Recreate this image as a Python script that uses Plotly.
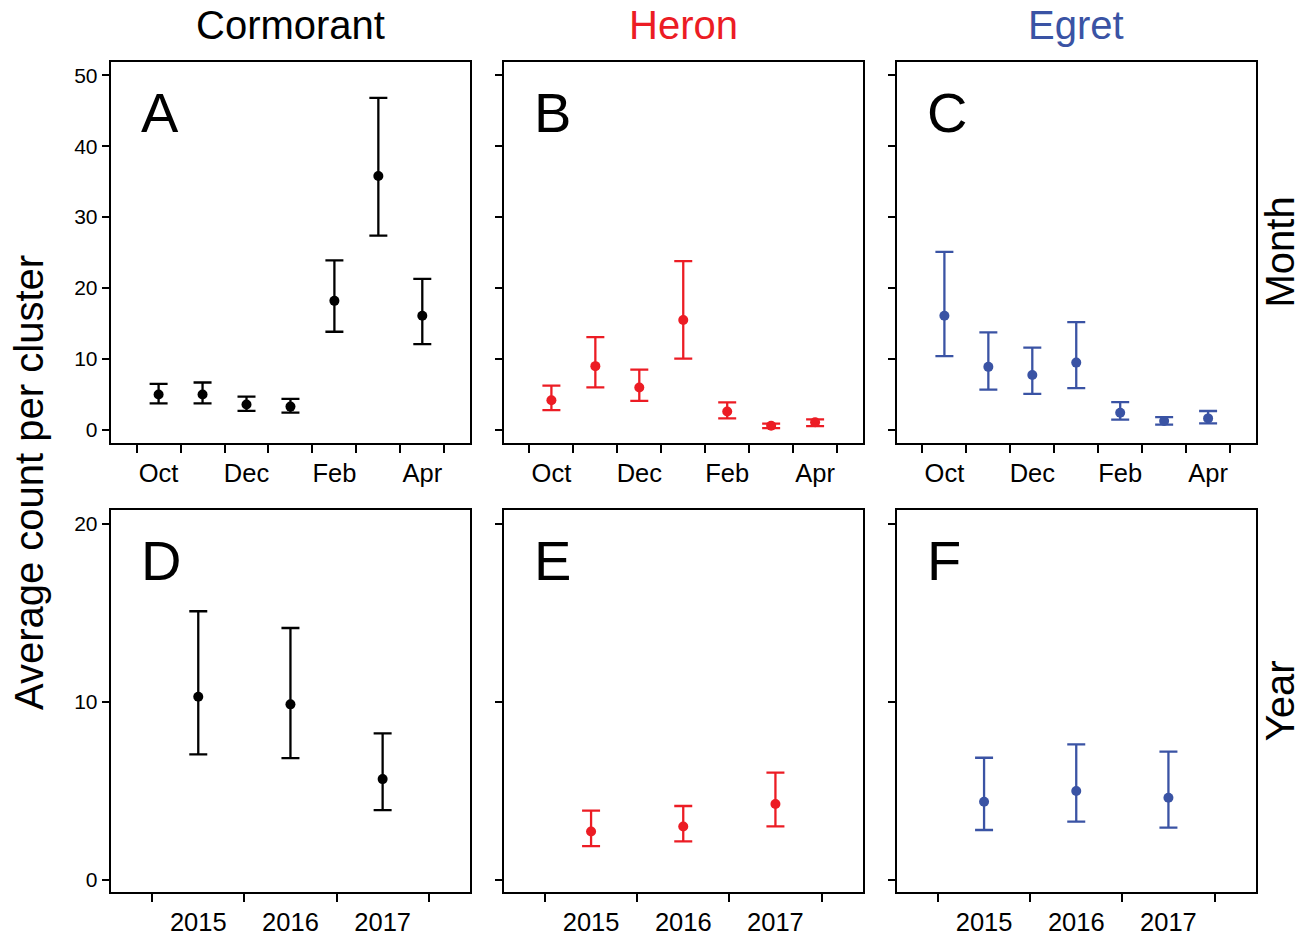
import plotly.graph_objects as go

# ---------------- data ----------------
months = ["Oct", "Nov", "Dec", "Jan", "Feb", "Mar", "Apr"]
years = ["2015", "2016", "2017"]
species = ["Cormorant", "Heron", "Egret"]
colors = ["#000000", "#EC1C24", "#3A53A4"]

# Month panels (A, B, C): mean, lower, upper
cormorant_month_mean = [5.0, 5.0, 3.6, 3.3, 18.2, 35.8, 16.1]
cormorant_month_low = [3.75, 3.75, 2.7, 2.45, 13.85, 27.4, 12.1]
cormorant_month_high = [6.5, 6.7, 4.7, 4.4, 23.9, 46.8, 21.3]

heron_month_mean = [4.2, 9.0, 6.0, 15.5, 2.6, 0.6, 1.1]
heron_month_low = [2.8, 6.0, 4.1, 10.05, 1.64, 0.28, 0.56]
heron_month_high = [6.25, 13.1, 8.5, 23.8, 3.9, 0.89, 1.5]

egret_month_mean = [16.1, 8.9, 7.75, 9.5, 2.44, 1.27, 1.64]
egret_month_low = [10.4, 5.7, 5.1, 5.9, 1.46, 0.75, 0.94]
egret_month_high = [25.1, 13.75, 11.6, 15.2, 3.94, 1.83, 2.68]

# Year panels (D, E, F)
cormorant_year_mean = [10.3, 9.87, 5.67]
cormorant_year_low = [7.06, 6.85, 3.93]
cormorant_year_high = [15.1, 14.16, 8.24]

heron_year_mean = [2.73, 3.01, 4.27]
heron_year_low = [1.91, 2.17, 3.01]
heron_year_high = [3.9, 4.16, 6.03]

egret_year_mean = [4.4, 5.0, 4.62]
egret_year_low = [2.81, 3.28, 2.94]
egret_year_high = [6.87, 7.62, 7.21]

month_sets = [
    (cormorant_month_mean, cormorant_month_low, cormorant_month_high),
    (heron_month_mean, heron_month_low, heron_month_high),
    (egret_month_mean, egret_month_low, egret_month_high),
]
year_sets = [
    (cormorant_year_mean, cormorant_year_low, cormorant_year_high),
    (heron_year_mean, heron_year_low, heron_year_high),
    (egret_year_mean, egret_year_low, egret_year_high),
]
panel_letters = ["A", "B", "C", "D", "E", "F"]

# ---------------- layout geometry ----------------
W, H = 1304, 936
FONT = "Liberation Sans, Arial, Helvetica, sans-serif"
col_left = [110.7, 503.5, 896.5]
col_w = 359.5
rows_px = [(61.7, 443.3), (510.0, 892.3)]

def xdom(c):
    return [col_left[c] / W, (col_left[c] + col_w) / W]

def ydom(r):
    top, bot = rows_px[r]
    return [1 - bot / H, 1 - top / H]

fig = go.Figure()
layout = dict(
    width=W, height=H,
    margin=dict(l=0, r=0, t=0, b=0),
    paper_bgcolor="white", plot_bgcolor="white",
    showlegend=False,
    font=dict(family=FONT, color="black"),
)

annotations = []

for r in range(2):
    for c in range(3):
        idx = r * 3 + c + 1
        xa = "x" if idx == 1 else f"x{idx}"
        ya = "y" if idx == 1 else f"y{idx}"
        xkey = "xaxis" if idx == 1 else f"xaxis{idx}"
        ykey = "yaxis" if idx == 1 else f"yaxis{idx}"

        if r == 0:
            cats = months
            mean, low, high = month_sets[c]
            xrange = [-1.09, len(cats) - 1 + 1.09]
            label_idx = [0, 2, 4, 6]
            yrange = [-1.87, 51.9]
            ytv = [0, 10, 20, 30, 40, 50]
        else:
            cats = years
            mean, low, high = year_sets[c]
            xrange = [-0.95, len(cats) - 1 + 0.95]
            label_idx = [0, 1, 2]
            yrange = [-0.69, 20.79]
            ytv = [0, 10, 20]

        xs = list(range(len(cats)))
        fig.add_trace(go.Scatter(
            x=xs, y=mean, mode="markers",
            marker=dict(color=colors[c], size=10),
            error_y=dict(
                type="data", symmetric=False,
                array=[h - m for h, m in zip(high, mean)],
                arrayminus=[m - l for m, l in zip(mean, low)],
                width=9, thickness=2.3, color=colors[c],
            ),
            xaxis=xa, yaxis=ya, hoverinfo="skip",
        ))

        layout[xkey] = dict(
            domain=xdom(c), anchor=ya, range=xrange,
            showgrid=False, zeroline=False,
            showline=True, linecolor="black", linewidth=2, mirror=True,
            tickmode="array",
            tickvals=label_idx,
            ticktext=[cats[i] for i in label_idx],
            ticks="outside", ticklen=6, tickwidth=2, tickcolor="rgba(0,0,0,0)",
            tickfont=dict(size=25.5, family=FONT, color="black"),
            minor=dict(
                tickmode="array",
                tickvals=[i - 0.5 for i in range(len(cats) + 1)],
                ticks="outside", ticklen=8, tickwidth=2, tickcolor="black",
                showgrid=False,
            ),
            fixedrange=True,
        )
        layout[ykey] = dict(
            domain=ydom(r), anchor=xa, range=yrange,
            showgrid=False, zeroline=False,
            showline=True, linecolor="black", linewidth=2, mirror=True,
            tickmode="array", tickvals=ytv,
            ticktext=[str(v) for v in ytv] if c == 0 else ["" for _ in ytv],
            ticks="outside", ticklen=7, tickwidth=2, tickcolor="black",
            tickfont=dict(size=21, family=FONT, color="black"),
            fixedrange=True,
        )

        annotations.append(dict(
            text=panel_letters[idx - 1],
            xref=f"{xa} domain", yref=f"{ya} domain",
            x=0.08, y=0.868, xanchor="left", yanchor="middle",
            showarrow=False, font=dict(size=56, family=FONT, color="black"),
        ))

# column titles
for c in range(3):
    annotations.append(dict(
        text=species[c], xref="paper", yref="paper",
        x=(col_left[c] + col_w / 2) / W, y=1 - 25 / H,
        xanchor="center", yanchor="middle", showarrow=False,
        font=dict(size=40, family=FONT, color=colors[c]),
    ))

# strip labels on the right
for r, lab in enumerate(["Month", "Year"]):
    top, bot = rows_px[r]
    annotations.append(dict(
        text=lab, xref="paper", yref="paper",
        x=1280 / W, y=1 - ((top + bot) / 2) / H,
        xanchor="center", yanchor="middle", textangle=-90, showarrow=False,
        font=dict(size=40, family=FONT, color="black"),
    ))

# shared y-axis title
annotations.append(dict(
    text="Average count per cluster", xref="paper", yref="paper",
    x=29 / W, y=1 - 483 / H, xanchor="center", yanchor="middle",
    textangle=-90, showarrow=False,
    font=dict(size=40, family=FONT, color="black"),
))

layout["annotations"] = annotations
fig.update_layout(**layout)
fig.write_html("out.html")
